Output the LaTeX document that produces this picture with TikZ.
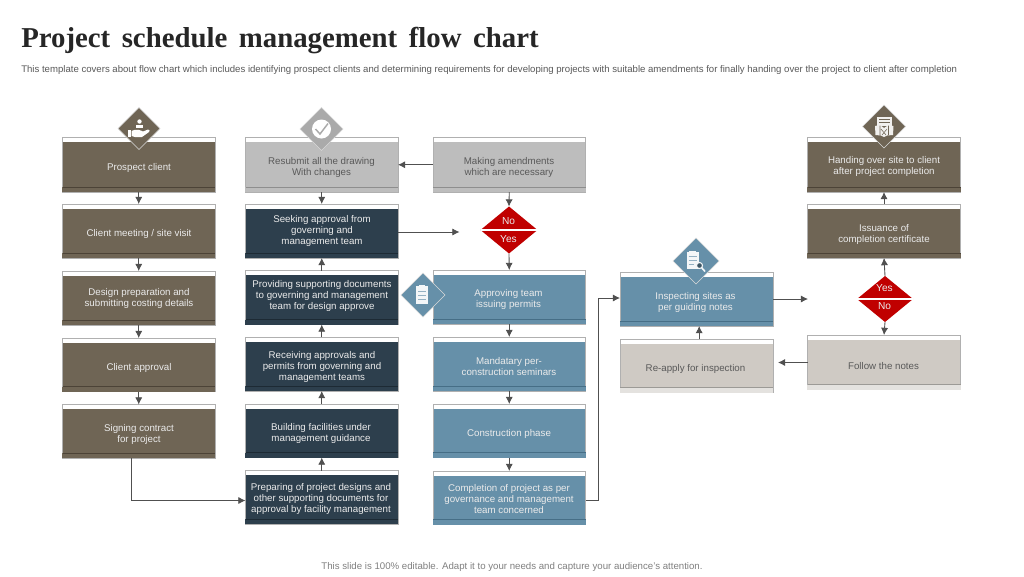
\documentclass[tikz,border=0pt]{standalone}
\usepackage{fontspec}
\setmainfont{Liberation Sans}
\newfontfamily\titlefont[WordSpace=1.6]{Liberation Serif}
\usetikzlibrary{arrows.meta}
\definecolor{brn}{HTML}{6F6555}\definecolor{brnd}{HTML}{4C4337}
\definecolor{nvy}{HTML}{2D3F4D}\definecolor{nvyd}{HTML}{1D2A34}
\definecolor{blu}{HTML}{6690A9}\definecolor{blud}{HTML}{466E86}
\definecolor{gry}{HTML}{BDBDBD}\definecolor{gryd}{HTML}{8E8E8E}
\definecolor{lgr}{HTML}{CFCAC4}\definecolor{lgrd}{HTML}{9C9A96}
\definecolor{lgs}{HTML}{E4E2DF}
\definecolor{redd}{HTML}{C00000}
\definecolor{frm}{HTML}{B0B0B0}
\definecolor{lin}{HTML}{505050}
\tikzset{
  x=0.75pt,y=-0.75pt,
  frame/.style={draw=frm,line width=0.6pt,inner sep=0pt,outer sep=0pt,anchor=north west},
  boxtext/.style={font=\fontsize{7.3pt}{8.3pt}\selectfont,align=center,inner sep=0pt,yshift=-0.5pt},
  flow/.style={draw=lin,line width=0.65pt,-{Latex[length=5.4pt,width=5.4pt]}},
  decis/.style={fill=redd,draw=none},
  dectext/.style={text=white!92!black,font=\fontsize{7.6pt}{9pt}\selectfont,inner sep=0pt},
  icondia/.style={draw=white!85!black,line width=0.35pt},
}
% name x0 y0 x1 y1 body line strip textcolour, then "at (x,y) {text};"
\newcommand{\bx}[9]{%
  \pgfmathsetmacro{\bxw}{(#4-#2)*0.75}%
  \pgfmathsetmacro{\bxh}{(#5-#3)*0.75}%
  \fill[#6] (#2,#3+4.5) rectangle (#4,#5-4.5);
  \node[frame,minimum width=\bxw pt,minimum height=\bxh pt] (#1) at (#2,#3) {};
  \fill[#8] (#2-0.4,#5-4.6) rectangle (#4+0.4,#5+0.4);
  \draw[#7,line width=0.7pt] (#2,#5-5) -- (#4,#5-5);
  \node[boxtext,text=#9] (#1t) }
\newcommand{\dia}[4]{\path[fill=#4,icondia] (#1-#3,#2) -- (#1,#2-#3) -- (#1+#3,#2) -- (#1,#2+#3) -- cycle;}
\begin{document}
\begin{tikzpicture}
\useasboundingbox (0,0) rectangle (1024,576);
\fill[white] (0,0) rectangle (1024,576);
\node[anchor=west,inner sep=0pt,font=\titlefont\bfseries\fontsize{21.6pt}{24pt}\selectfont,text=black!85] (title) at (21,40.5) {Project schedule management flow chart};
\node[anchor=west,inner sep=0pt,font=\fontsize{7.2pt}{9pt}\selectfont,text=black!65] (sub) at (21,70.5) {This template covers about flow chart which includes identifying prospect clients and determining requirements for developing projects with suitable amendments for finally handing over the project to client after completion};
\node[inner sep=0pt,font=\fontsize{7.25pt}{9pt}\selectfont,text=black!50] (foot) at (512,567) {This slide is 100\% editable. Adapt it to your needs and capture your audience's attention.};

% column 1
\bx{a1}{62.5}{137.5}{215}{192}{brn}{brnd}{brn}{white!92!black} at (139,167.5) {Prospect client};
\bx{a2}{62.5}{204}{215}{258}{brn}{brnd}{brn}{white!92!black} at (139,233.5) {Client meeting / site visit};
\bx{a3}{62.5}{271}{215}{325}{brn}{brnd}{brn}{white!92!black} at (139,297.5) {Design preparation and\\submitting costing details};
\bx{a4}{62.5}{338}{215}{391.5}{brn}{brnd}{brn}{white!92!black} at (139,367.5) {Client approval};
\bx{a5}{62.5}{404.5}{215}{458}{brn}{brnd}{brn}{white!92!black} at (139,434) {Signing contract\\for project};
% column 2
\bx{b1}{245.5}{137.5}{398}{192}{gry}{gryd}{gry}{black!65} at (321.5,166.7) {Resubmit all the drawing\\With changes};
\bx{b2}{245.5}{204}{398}{258}{nvy}{nvyd}{nvy}{white!92!black} at (322,230) {Seeking approval from\\governing and\\management team};
\bx{b3}{245.5}{270.5}{398}{324.5}{nvy}{nvyd}{nvy}{white!92!black} at (322,295.5) {Providing supporting documents\\to governing and management\\team for design approve};
\bx{b4}{245.5}{337}{398}{391}{nvy}{nvyd}{nvy}{white!92!black} at (322,366) {Receiving approvals and\\permits from governing and\\management teams};
\bx{b5}{245.5}{404}{398}{457.5}{nvy}{nvyd}{nvy}{white!92!black} at (321,433) {Building facilities under\\management guidance};
\bx{b6}{245.5}{470.5}{398}{524}{nvy}{nvyd}{nvy}{white!92!black} at (321,498.5) {Preparing of project designs and\\other supporting documents for\\approval by facility management};
% column 3
\bx{c1}{433}{137.5}{585.5}{192}{gry}{gryd}{gry}{black!65} at (509,166.7) {Making amendments\\which are necessary};
\bx{c2}{433}{270}{585.5}{324}{blu}{blud}{blu}{white!92!black} at (508.5,299) {Approving team\\issuing permits};
\bx{c3}{433}{337}{585.5}{391}{blu}{blud}{blu}{white!92!black} at (509,366) {Mandatary per-\\construction seminars};
\bx{c4}{433}{404}{585.5}{457.5}{blu}{blud}{blu}{white!92!black} at (509,433) {Construction phase};
\bx{c5}{433}{471}{585.5}{524.5}{blu}{blud}{blu}{white!92!black} at (509,498.7) {Completion of project as per\\governance and management\\team concerned};
% column 4
\bx{d1}{620}{272.5}{773}{326}{blu}{blud}{blu}{white!92!black} at (695.5,302) {Inspecting sites as\\per guiding notes};
\bx{d2}{620}{339}{773}{392.5}{lgr}{lgrd}{lgs}{black!65} at (695.5,368.5) {Re-apply for inspection};
% column 5
\bx{e1}{807.5}{137.5}{960.5}{192}{brn}{brnd}{brn}{white!92!black} at (884,166) {Handing over site to client\\after project completion};
\bx{e2}{807.5}{204}{960.5}{258}{brn}{brnd}{brn}{white!92!black} at (884,233.7) {Issuance of\\completion certificate};
\bx{e3}{807.5}{335}{960.5}{389.5}{lgr}{lgrd}{lgs}{black!65} at (883.5,365) {Follow the notes};

% decision diamonds
\path[decis] (480.5,230) -- (509,206.5) -- (537.5,230) -- (509,253.5) -- cycle;
\coordinate (r1n) at (509,206.5);\coordinate (r1s) at (509,253.5);
\draw[white,line width=0.8pt] (480.5,230) -- (537.5,230);
\node[dectext] (r1a) at (508.5,221.5) {No};
\node[dectext] (r1b) at (508.5,239.5) {Yes};
\path[decis] (857,299) -- (885,276) -- (913,299) -- (885,322) -- cycle;
\coordinate (r2n) at (885,276);\coordinate (r2s) at (885,322);
\draw[white,line width=0.8pt] (857,299) -- (913,299);
\node[dectext] (r2a) at (884.5,288.5) {Yes};
\node[dectext] (r2b) at (884.5,306.5) {No};

% free ends
\coordinate (f1) at (459.5,232);
\coordinate (f2) at (808,299);
\coordinate (f3) at (778,362.5);
\coordinate (f4) at (598,298);
\coordinate (f5) at (131,500.5);

% connectors
\foreach \p/\q in {a1/a2,a2/a3,a3/a4,a4/a5,b1/b2,c2/c3,c3/c4,c4/c5} {\draw[flow] (\p.south) -- (\q.north);}
\foreach \p/\q in {b6/b5,b5/b4,b4/b3,b3/b2,e2/e1} {\draw[flow] (\p.north) -- (\q.south);}
\draw[flow] (a5.south -| f5) -- (f5) -- (f5 -| b6.west);
\draw[flow] (c1.west) -- (b1.east);
\draw[flow] (c1.south) -- (r1n);
\draw[flow] (r1s) -- (c2.north);
\draw[flow] (b2.east |- f1) -- (f1);
\draw[flow] (c5.east |- f5) -| (f4) -- (f4 -| d1.west);
\draw[flow] (d1.east |- f2) -- (f2);
\draw[flow] (r2n) -- (e2.south);
\draw[flow] (r2s) -- (e3.north);
\draw[flow] (e3.west |- f3) -- (f3);
\draw[flow] ([xshift=2pt]d2.north) -- ([xshift=2pt]d1.south);

% hand
\dia{139}{128.5}{21}{brn}
\fill[white] (139.5,121.5) circle (2.2);
\fill[white] (136,124.5) rectangle (143,128);
\fill[white] (128,130) rectangle (130.8,137);
\fill[white] (131.5,131) .. controls (136,128.5) and (140,130) .. (143,131.5) -- (148,129.5) .. controls (150,129.5) and (150,131) .. (149,132) -- (142,137) -- (135,137) -- (131.5,136) -- cycle;
% check
\dia{321.5}{129}{21.5}{gry!90!black}
\fill[white] (321.5,129) circle (9.5);
\draw[gry!90!black,line width=1.1pt] (315.5,129) -- (320,134) -- (328,123.5);
% clipboard
\dia{423}{295}{22}{blu}
\fill[white!92!blu] (416,286) rectangle (428,304);
\fill[white!92!blu] (419,284.5) rectangle (425,287);
\draw[blu!70,line width=0.4pt] (418,291) -- (426,291) (418,295) -- (426,295) (418,299) -- (426,299);
% inspect
\dia{696}{261}{23}{blu}
\fill[white!92!blu] (686.5,252) rectangle (699,269);
\fill[white!92!blu] (689,250.5) rectangle (696,253);
\draw[blu!70,line width=0.4pt] (688.5,256) -- (697,256) (688.5,260) -- (697,260) (688.5,264) -- (694,264);
\draw[white!92!blu,fill=blu!60!black,line width=0.8pt] (699.5,265.5) circle (3);
\draw[white!92!blu,line width=1.2pt] (701.7,267.7) -- (705,271.5);
% handover
\dia{884}{126.5}{21.5}{brn}
\fill[white!90!brn] (877,117) rectangle (892,126);
\draw[brn,line width=0.4pt] (879,119.5) -- (890,119.5) (879,122.5) -- (890,122.5);
\fill[white!90!brn] (875,126) -- (880,125) -- (884,128) -- (888.5,125) -- (893.5,126) -- (893,135) -- (887,135.5) -- (884,137) -- (881,135.5) -- (875.5,135) -- cycle;
\draw[brn,line width=0.4pt] (881,129) -- (886,135) (887,129) -- (882,135) (880,125.5) -- (880,135) (888.5,125.5) -- (888.5,135);
\end{tikzpicture}
\end{document}
